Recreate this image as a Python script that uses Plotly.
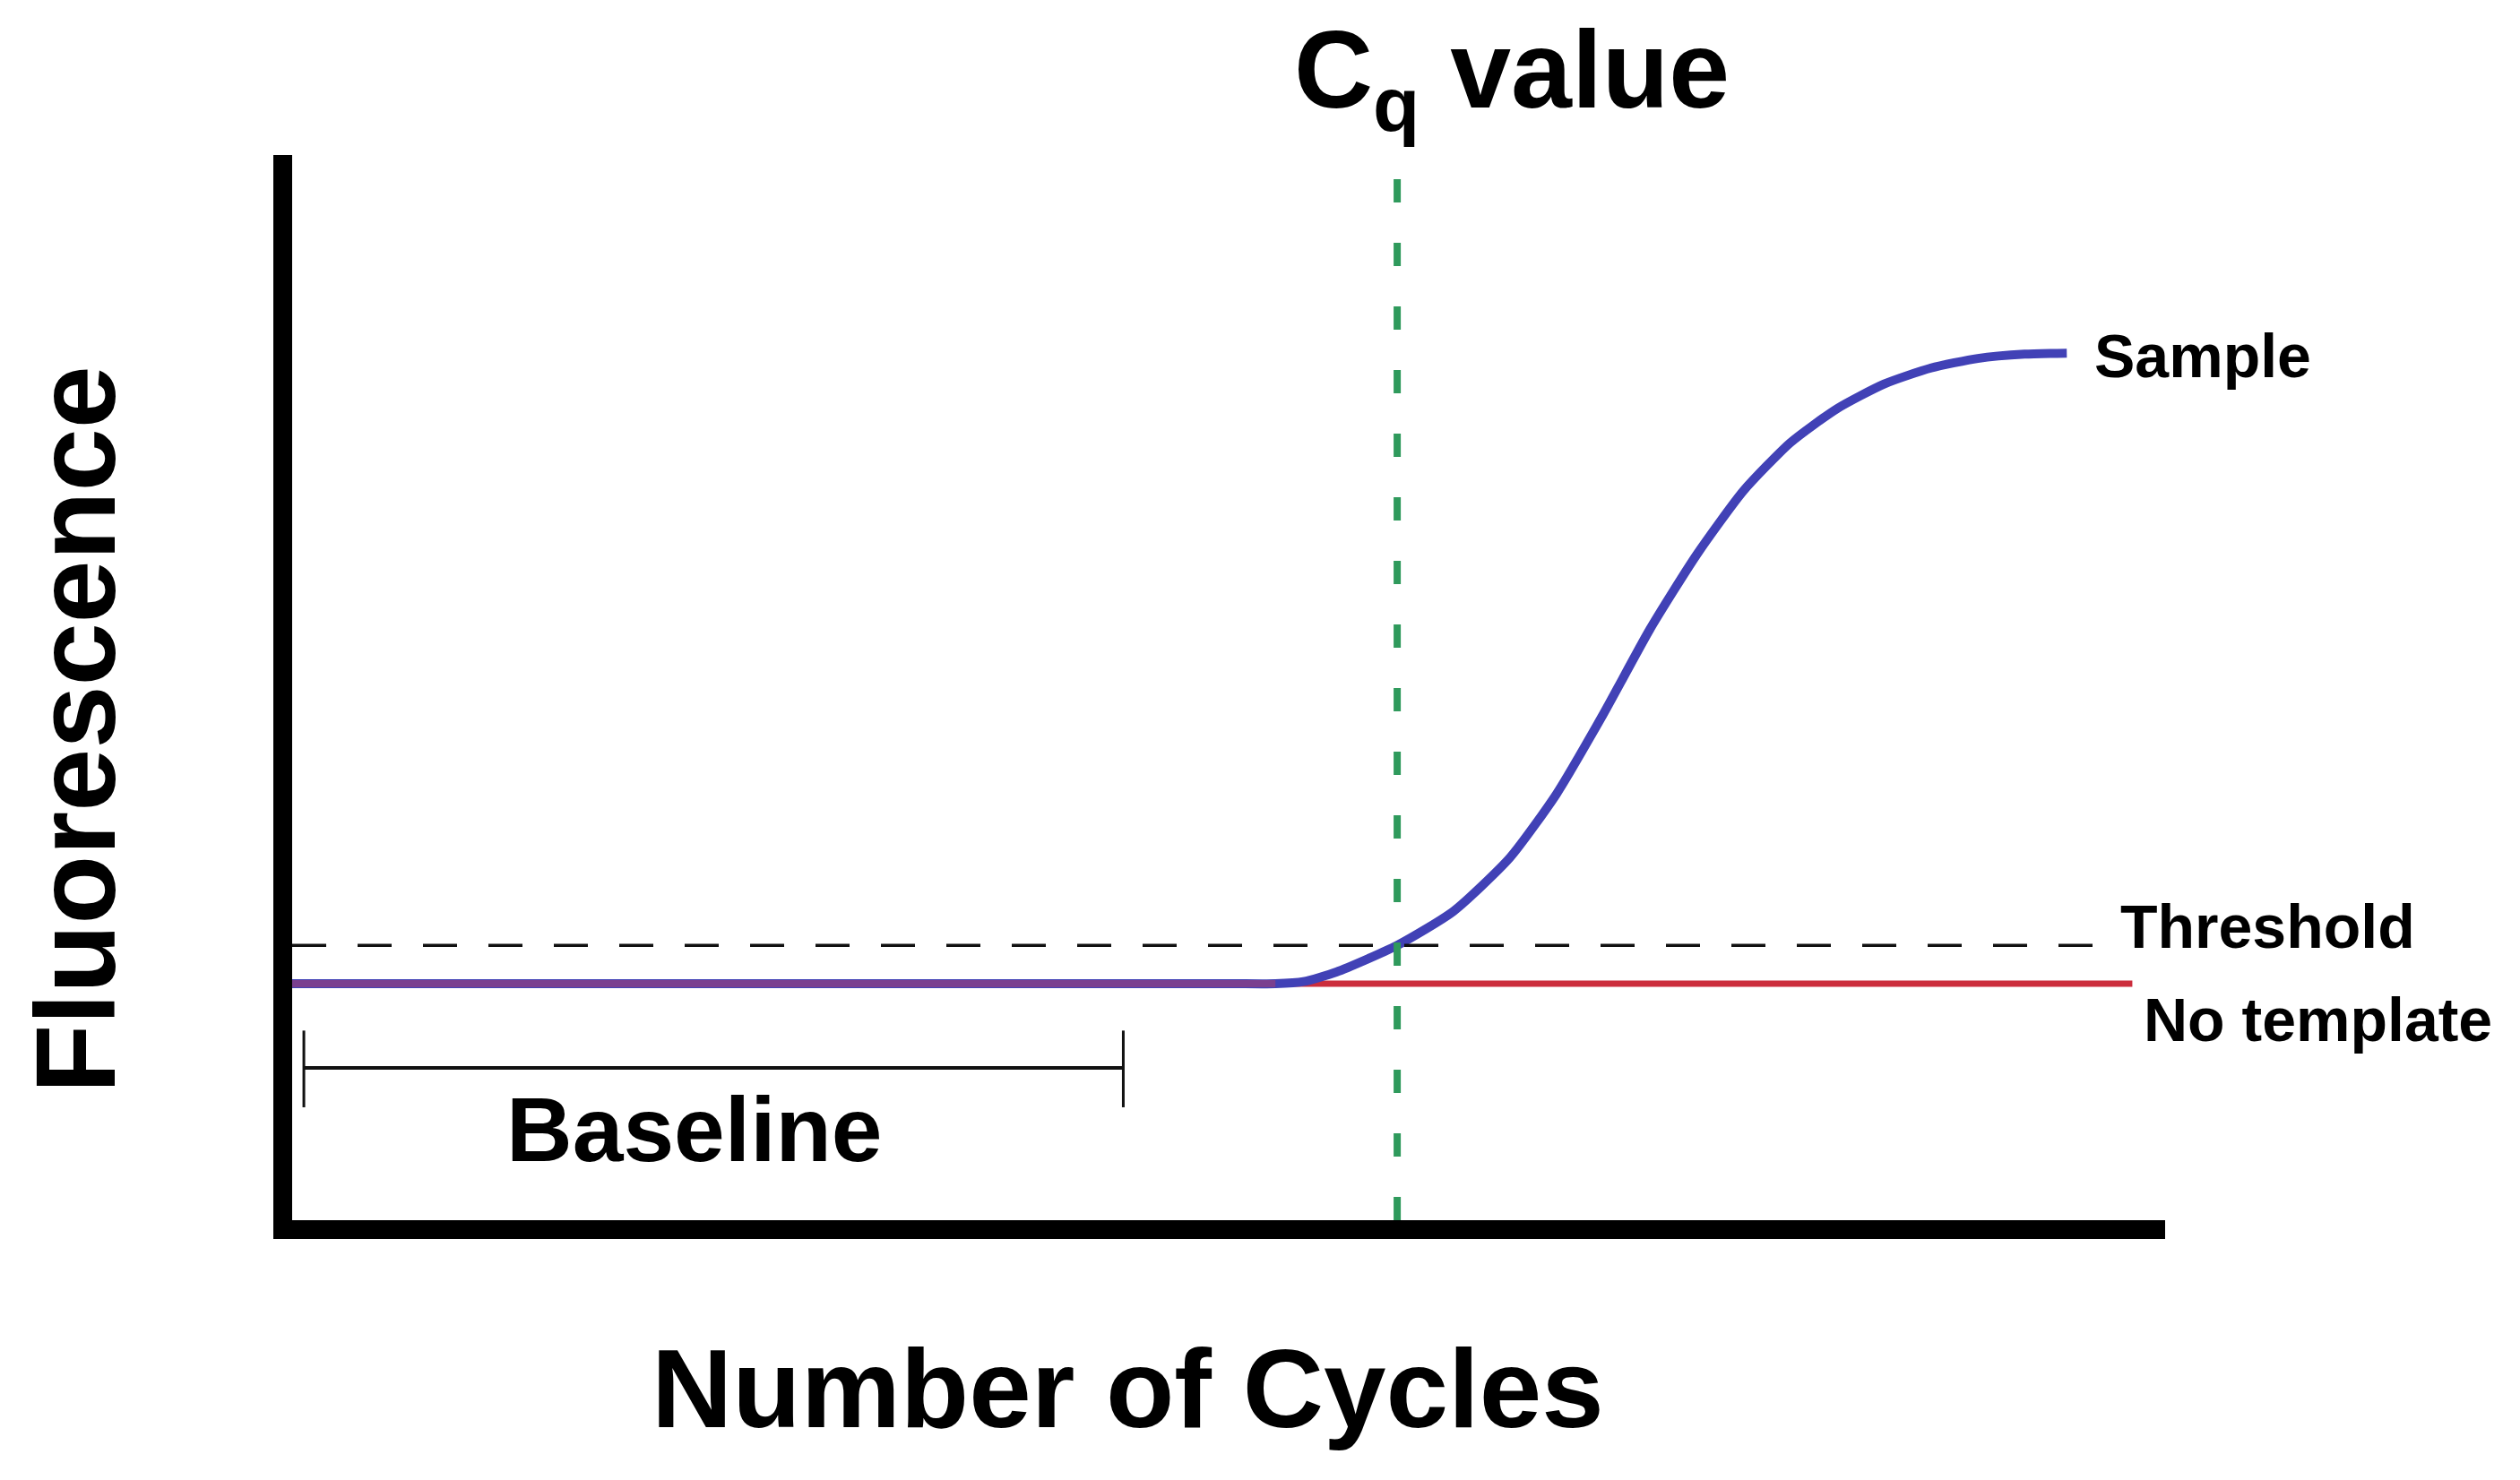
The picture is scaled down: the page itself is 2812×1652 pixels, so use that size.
import plotly.graph_objects as go

# qPCR amplification plot: values
cycles_sample = [0, 10.0, 20.0, 21.0, 21.6, 22.3, 23.6, 24.8, 26.0, 27.0, 28.0, 29.0, 30.0,
                 31.0, 32.0, 33.0, 34.0, 35.0, 36.0, 37.0, 37.9]
fluor_sample = [22.2, 22.2, 22.2, 22.2, 22.4, 23.3, 25.8, 29.0, 34.0, 40.0, 47.5, 55.5, 62.5,
                68.5, 73.0, 76.2, 78.5, 80.0, 80.9, 81.3, 81.4]

cycles_ntc = [0, 39.3]
fluor_ntc = [22.2, 22.2]

cycles_threshold = [0, 39.0]
fluor_threshold = [25.8, 25.8]

cq_cycle = 23.6
fluor_range = [0, 100]

baseline_cycles = [0.25, 17.75]
baseline_level = 14.3
baseline_tick = [10.6, 17.8]

FONT = "Liberation Sans, Arial, sans-serif"

fig = go.Figure()

# No template control (red)
fig.add_trace(go.Scatter(
    x=cycles_ntc, y=fluor_ntc, mode="lines",
    line=dict(color="#cc2d3c", width=7), hoverinfo="skip"
))

# Sample amplification curve (blue)
fig.add_trace(go.Scatter(
    x=cycles_sample, y=fluor_sample, mode="lines",
    line=dict(color="#4141b6", width=10, shape="spline", smoothing=0.6),
    hoverinfo="skip"
))

# where both curves overlap the line looks purple
fig.add_trace(go.Scatter(
    x=[cycles_sample[0], cycles_sample[3]], y=[fluor_sample[0], fluor_sample[3]],
    mode="lines", line=dict(color="#7a3f8f", width=8), hoverinfo="skip"
))

# Threshold (black dashed)
fig.add_trace(go.Scatter(
    x=cycles_threshold, y=fluor_threshold, mode="lines",
    line=dict(color="#111111", width=3.5, dash="38px,35px"), hoverinfo="skip"
))

# Cq marker (green dashed)
fig.add_trace(go.Scatter(
    x=[cq_cycle, cq_cycle], y=fluor_range, mode="lines",
    line=dict(color="#2f9a5c", width=8, dash="26px,45px"), hoverinfo="skip"
))

# Baseline bracket
fig.add_trace(go.Scatter(
    x=baseline_cycles, y=[baseline_level, baseline_level], mode="lines",
    line=dict(color="#111111", width=4), hoverinfo="skip"
))
for bx in baseline_cycles:
    fig.add_trace(go.Scatter(
        x=[bx, bx], y=baseline_tick, mode="lines",
        line=dict(color="#111111", width=3), hoverinfo="skip"
    ))

annotations = [
    dict(x=0.534, y=1.072, xref="paper", yref="paper", xanchor="left", yanchor="middle",
         text="C<sub>q</sub> value", font=dict(size=122, color="black")),
    dict(x=38.45, y=81.2, xanchor="left", yanchor="middle",
         text="Sample", font=dict(size=68, color="black")),
    dict(x=39.0, y=27.6, xanchor="left", yanchor="middle",
         text="Threshold", font=dict(size=68, color="black")),
    dict(x=39.5, y=18.8, xanchor="left", yanchor="middle",
         text="No template", font=dict(size=68, color="black")),
    dict(x=8.6, y=8.5, xanchor="center", yanchor="middle",
         text="Baseline", font=dict(size=102, color="black")),
    dict(x=0.446, y=-0.158, xref="paper", yref="paper", xanchor="center", yanchor="middle",
         text="Number of Cycles", font=dict(size=125, color="black")),
    dict(x=-0.116, y=0.46, xref="paper", yref="paper", xanchor="center", yanchor="middle",
         text="Fluorescence", textangle=-90, font=dict(size=126, color="black")),
]
for a in annotations:
    a["showarrow"] = False
    a["font"]["family"] = FONT
    a["font"]["weight"] = "bold"

# the page body adds an 8px offset, so margins are shifted back by that much
fig.update_layout(
    width=2812, height=1652,
    margin=dict(l=318, r=404, t=165, b=298),
    paper_bgcolor="white", plot_bgcolor="white",
    showlegend=False,
    annotations=annotations,
    font=dict(family=FONT),
)
fig.update_xaxes(range=[0, 40], showline=True, linewidth=21, linecolor="black",
                 showgrid=False, zeroline=False, showticklabels=False, ticks="")
fig.update_yaxes(range=fluor_range, showline=True, linewidth=21, linecolor="black",
                 showgrid=False, zeroline=False, showticklabels=False, ticks="")

fig.write_html("out.html")
